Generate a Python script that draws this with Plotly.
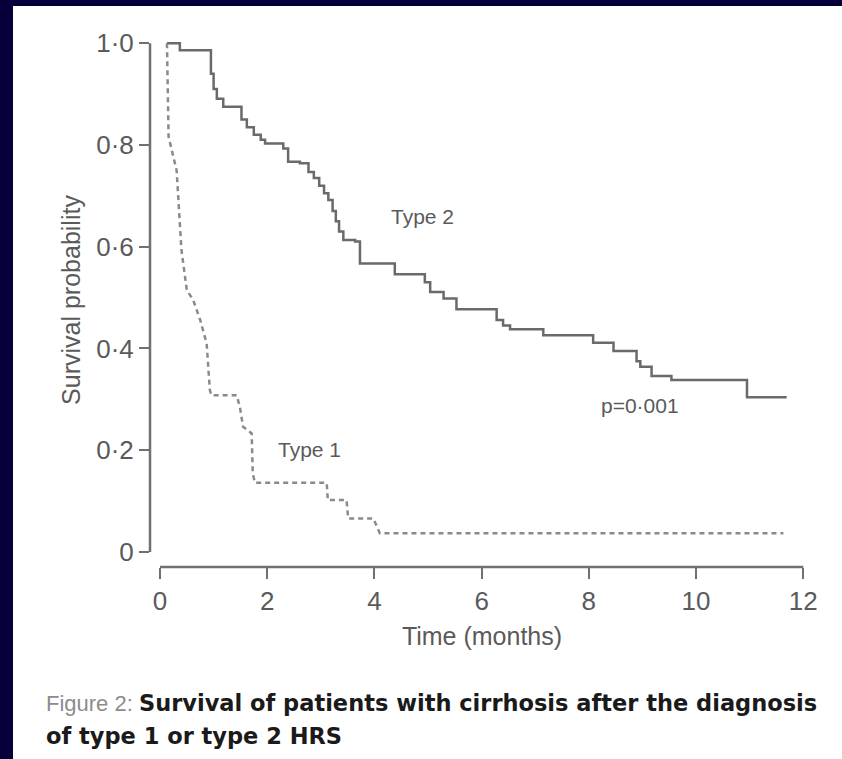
import plotly.graph_objects as go

# ---- data ----
# Type 2 HRS: Kaplan-Meier steps (time in months, survival probability)
type2_time = [0.13, 0.37, 0.95, 1.00, 1.06, 1.18, 1.52, 1.62, 1.75, 1.88, 1.96, 2.30, 2.39,
              2.61, 2.77, 2.87, 2.97, 3.06, 3.14, 3.22, 3.28, 3.34, 3.42, 3.64, 3.73,
              4.38, 4.94, 5.04, 5.29, 5.53, 6.28, 6.40, 6.53, 7.15, 8.08, 8.46, 8.89,
              8.96, 9.17, 9.54, 10.95, 11.69]
type2_surv = [1.000, 0.986, 0.940, 0.910, 0.891, 0.875, 0.850, 0.835, 0.820, 0.810, 0.803, 0.793, 0.767,
              0.764, 0.747, 0.735, 0.720, 0.705, 0.692, 0.670, 0.650, 0.630, 0.613, 0.610, 0.567,
              0.546, 0.530, 0.511, 0.498, 0.477, 0.456, 0.445, 0.438, 0.426, 0.411, 0.395, 0.375,
              0.364, 0.346, 0.338, 0.304, 0.304]

# Type 1 HRS: curve vertices
type1_time = [0.13, 0.16, 0.31, 0.34, 0.40, 0.50, 0.62, 0.75, 0.87, 0.90, 0.93, 0.96, 1.43,
              1.49, 1.55, 1.71, 1.72, 1.73, 1.77, 3.11, 3.13, 3.48, 3.51, 3.98, 4.10, 11.63]
type1_surv = [1.000, 0.816, 0.750, 0.698, 0.593, 0.515, 0.495, 0.456, 0.410, 0.364, 0.318, 0.308, 0.308,
              0.285, 0.246, 0.233, 0.194, 0.155, 0.136, 0.136, 0.102, 0.102, 0.066, 0.066, 0.037, 0.037]

x_ticks = [0, 2, 4, 6, 8, 10, 12]
x_tick_labels = ["0", "2", "4", "6", "8", "10", "12"]
y_ticks = [0, 0.2, 0.4, 0.6, 0.8, 1.0]
y_tick_labels = ["0", "0·2", "0·4", "0·6", "0·8", "1·0"]

# ---- figure ----
W, H = 842, 759
AX = "#707070"
TXT = "#5a5a5a"
FONT = "Liberation Sans, Arial, sans-serif"

fig = go.Figure()
fig.add_trace(go.Scatter(x=type2_time, y=type2_surv, mode="lines", line_shape="hv",
                         line=dict(color="#6a6a6a", width=2.5), name="Type 2",
                         showlegend=False))
fig.add_trace(go.Scatter(x=type1_time, y=type1_surv, mode="lines",
                         line=dict(color="#8a8a8a", width=2.5, dash="5px,4px"), name="Type 1",
                         showlegend=False))

# axis lines (detached, as in the reference)
fig.add_shape(type="line", xref="paper", yref="y", x0=0, x1=0, y0=0, y1=1.0,
              line=dict(color=AX, width=2.5))
fig.add_shape(type="line", xref="x", yref="paper", x0=0, x1=12, y0=0, y1=0,
              line=dict(color=AX, width=2.5))

# navy frame strips
NAVY = "#05003a"
pl, pw = 150, 664
pb, ph = 567, 534
def px_x(p):
    return (p - pl) / pw
def px_y(p):
    return (pb - p) / ph
fig.add_shape(type="rect", xref="paper", yref="paper", x0=px_x(-2), x1=px_x(13),
              y0=px_y(H + 2), y1=px_y(-2), fillcolor=NAVY, line=dict(width=0), layer="above")
fig.add_shape(type="rect", xref="paper", yref="paper", x0=px_x(-2), x1=px_x(W + 2),
              y0=px_y(6), y1=px_y(-2), fillcolor=NAVY, line=dict(width=0), layer="above")

ann_font = dict(family=FONT, size=21, color=TXT)
fig.add_annotation(x=4.89, y=0.66, text="Type 2", showarrow=False, font=ann_font)
fig.add_annotation(x=2.78, y=0.202, text="Type 1", showarrow=False, font=ann_font)
fig.add_annotation(x=8.96, y=0.287, text="p=0·001", showarrow=False, font=ann_font)

# caption
CAP_FONT = dict(family="DejaVu Sans", size=22.5, color="#1a1a1a")
fig.add_annotation(xref="paper", yref="paper", x=px_x(44), y=px_y(703), xanchor="left",
                   yanchor="middle", showarrow=False,
                   text="<span style='font-family:Liberation Sans;font-size:22px;"
                        "font-weight:normal;color:#8c8c8c'>Figure 2: </span>"
                        "<b>Survival of patients with cirrhosis after the diagnosis</b>",
                   font=CAP_FONT)
fig.add_annotation(xref="paper", yref="paper", x=px_x(44), y=px_y(736), xanchor="left",
                   yanchor="middle", showarrow=False,
                   text="<b>of type 1 or type 2 HRS</b>",
                   font=CAP_FONT)

fig.update_xaxes(range=[-0.1866, 12.2], tickvals=x_ticks, ticktext=x_tick_labels,
                 ticks="outside", ticklen=11, tickwidth=2, tickcolor=AX,
                 showline=False, showgrid=False, zeroline=False,
                 tickfont=dict(family=FONT, size=26, color=TXT),
                 title=dict(text="Time (months)", font=dict(family=FONT, size=25, color=TXT),
                            standoff=12))
fig.update_yaxes(range=[-0.0295, 1.02], tickvals=y_ticks, ticktext=y_tick_labels,
                 ticks="outside", ticklen=10, tickwidth=2, tickcolor=AX,
                 showline=False, showgrid=False, zeroline=False,
                 tickfont=dict(family=FONT, size=26, color=TXT),
                 title=dict(text="Survival probability", font=dict(family=FONT, size=25, color=TXT),
                            standoff=8))

fig.update_layout(width=W, height=H, paper_bgcolor="white", plot_bgcolor="white",
                  margin=dict(l=pl, r=W - pl - pw, t=pb - ph, b=H - pb, pad=0),
                  showlegend=False)

fig.write_html("out.html", config={"displayModeBar": False},
               post_script="document.body.style.margin='0';document.body.style.overflow='hidden';")
